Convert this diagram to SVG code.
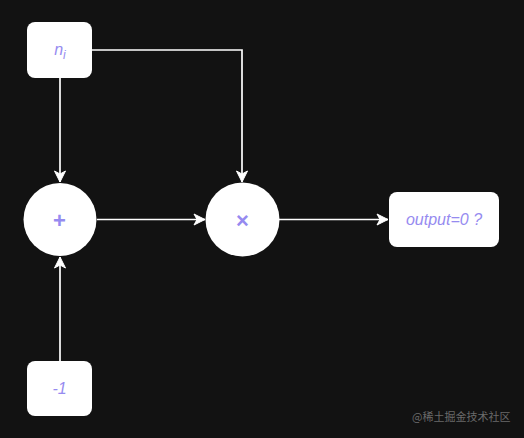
<svg xmlns="http://www.w3.org/2000/svg" width="524" height="438" viewBox="0 0 524 438">
<style>
.box{fill:#ffffff;}
.lbl{font-family:"Liberation Sans",Arial,sans-serif;font-size:16px;fill:#968bf0;font-style:italic;text-anchor:middle;}
.op{font-family:"Liberation Sans",Arial,sans-serif;font-size:22px;font-weight:bold;fill:#968bf0;text-anchor:middle;}
.edge{fill:none;stroke:#ffffff;stroke-width:1.7;}
.wm{font-family:"Noto Sans CJK SC",sans-serif;font-size:11px;fill:#6a6a6a;}
</style>
<defs>
<marker id="arr" markerWidth="14" markerHeight="14" refX="12" refY="7" orient="auto" markerUnits="userSpaceOnUse">
<path d="M1,1.5 L12,7 L1,12.5 L4,7 Z" fill="#ffffff" stroke="#ffffff" stroke-width="1"/>
</marker>
</defs>
<rect width="524" height="438" fill="#121212"/>
<g id="connectors">
<path class="edge" d="M92,50 H242 V182" marker-end="url(#arr)"/>
<path class="edge" d="M60,78 V182" marker-end="url(#arr)"/>
<path class="edge" d="M60,361 V257" marker-end="url(#arr)"/>
<path class="edge" d="M97,219.5 H205" marker-end="url(#arr)"/>
<path class="edge" d="M279,219.5 H388" marker-end="url(#arr)"/>
</g>
<g id="node-ni">
<rect class="box" x="27" y="22" width="65" height="56" rx="8"/>
<text class="lbl" x="60" y="55">n<tspan font-size="12" dy="4">i</tspan></text>
</g>
<g id="node-plus">
<circle class="box" cx="60" cy="219.5" r="36.5"/>
<text class="op" x="59.5" y="227.5">+</text>
</g>
<g id="node-times">
<circle class="box" cx="242.5" cy="219.5" r="37"/>
<text class="op" x="242.5" y="227.5">×</text>
</g>
<g id="node-output">
<rect class="box" x="389" y="192" width="110" height="55" rx="8"/>
<text class="lbl" x="444" y="225">output=0 ?</text>
</g>
<g id="node-minus1">
<rect class="box" x="27" y="361" width="65" height="55" rx="8"/>
<text class="lbl" x="59.5" y="394">-1</text>
</g>
<text class="wm" x="412" y="421">@稀土掘金技术社区</text>
</svg>
